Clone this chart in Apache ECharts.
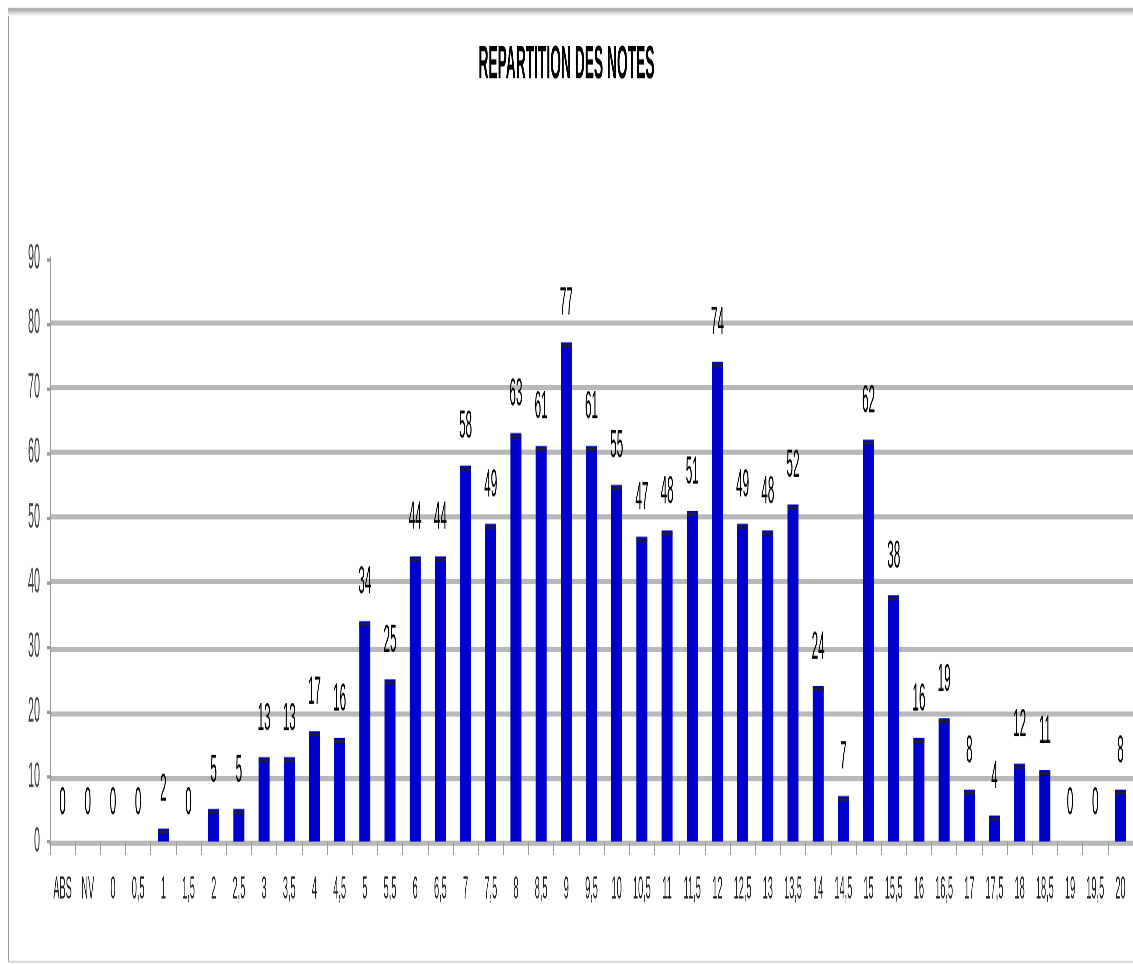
<!DOCTYPE html>
<html><head><meta charset="utf-8">
<script src="https://cdn.jsdelivr.net/npm/echarts@6/dist/echarts.min.js"></script>
<style>
html,body{margin:0;padding:0;background:#fff;width:1133px;height:964px;overflow:hidden}
#wrap{position:relative;width:1133px;height:964px;overflow:visible}
/* The reference is strongly stretched vertically: draw at 1/S height and stretch */
#c{position:absolute;left:0;top:0;width:1133px;height:283.53px;transform:scaleY(3.4);transform-origin:0 0}
</style>
</head><body><div id="wrap"><div id="c"></div></div>
<script>
const title = 'REPARTITION DES NOTES';
const categories = ['ABS','NV','0','0,5','1','1,5','2','2,5','3','3,5','4','4,5','5','5,5','6','6,5','7','7,5','8','8,5','9','9,5','10','10,5','11','11,5','12','12,5','13','13,5','14','14,5','15','15,5','16','16,5','17','17,5','18','18,5','19','19,5','20'];
const counts = [0,0,0,0,2,0,5,5,13,13,17,16,34,25,44,44,58,49,63,61,77,61,55,47,48,51,74,49,48,52,24,7,62,38,16,19,8,4,12,11,0,0,8];
const yMin = 0, yMax = 90, yStep = 10;

const FONT = '"Liberation Sans", Arial, sans-serif';
const chart = echarts.init(document.getElementById('c'), null, {renderer: 'canvas', devicePixelRatio: 4});
chart.setOption({
  animation: false,
  backgroundColor: '#fff',
  title: {
    text: title, left: 'center', top: 7.2,
    textStyle: {fontFamily: FONT, fontSize: 13.8, fontWeight: 'bold', color: '#000'}
  },
  graphic: [
    {type: 'line', shape: {x1: 8.5, y1: 2.35, x2: 8.5, y2: 283}, style: {stroke: '#999', lineWidth: 1}, silent: true},
    {type: 'line', shape: {x1: 8, y1: 282.9, x2: 1133, y2: 282.9}, style: {stroke: '#ccc', lineWidth: 0.5}, silent: true},
    {type: 'rect', shape: {x: 8, y: 2.35, width: 1130, height: 2.4}, style: {fill: new echarts.graphic.LinearGradient(0,0,0,1,[{offset:0,color:'#999'},{offset:1,color:'#fff'}])}, silent: true}
  ],
  grid: {left: 50, right: 0, top: 75.9, bottom: 36.5},
  xAxis: {
    type: 'category', data: categories, boundaryGap: true,
    axisLine: {lineStyle: {color: '#b8b8b8', width: 1.5}},
    axisTick: {show: true, length: 4, lineStyle: {color: '#999', width: 1}},
    axisLabel: {interval: 0, margin: 9.6, color: '#222', fontFamily: FONT, fontSize: 9.2}
  },
  yAxis: {
    type: 'value', min: yMin, max: yMax, interval: yStep,
    axisLine: {show: true, lineStyle: {color: '#999', width: 1}},
    axisTick: {show: true, length: 3, lineStyle: {color: '#999'}},
    splitLine: {showMaxLine: false, lineStyle: {color: '#b8b8b8', width: 1.5}},
    axisLabel: {margin: 10, color: '#444', fontFamily: FONT, fontSize: 10.8}
  },
  series: [
    {
      type: 'bar', data: counts, barWidth: 11,
      itemStyle: {color: '#0000cc'},
      label: {show: true, position: 'top', distance: 5.3, color: '#000', fontFamily: FONT, fontSize: 11.7}
    },
    {
      type: 'pictorialBar', symbol: 'rect', symbolPosition: 'end', symbolOffset: [0, '50%'],
      data: counts.map(v => ({value: v, symbolSize: v > 0 ? [11, 1] : [0, 0]})),
      itemStyle: {color: '#1a1a44'}, z: 5, silent: true
    }
  ]
});
</script></body></html>
